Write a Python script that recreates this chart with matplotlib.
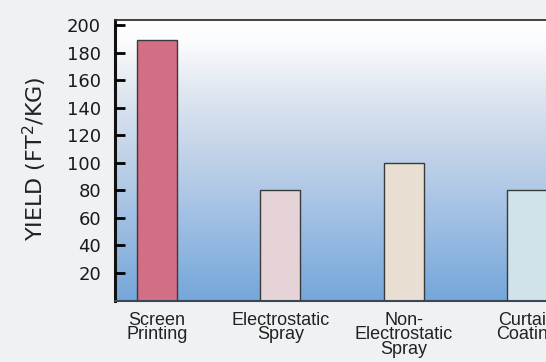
import numpy as np
import matplotlib
matplotlib.use("Agg")
import matplotlib.pyplot as plt
from matplotlib.colors import LinearSegmentedColormap

# Data
methods = ["Screen\nPrinting", "Electrostatic\nSpray", "Non-\nElectrostatic\nSpray", "Curtain\nCoating"]
yield_values = [189, 80, 100, 80]
bar_colors = ["#d36f84", "#e5d3d8", "#e8dfd2", "#d0e2ea"]
y_ticks = [20, 40, 60, 80, 100, 120, 140, 160, 180, 200]

fig = plt.figure(figsize=(5.46, 3.62), dpi=100)
fig.patch.set_facecolor("#eff1f3")

ax = fig.add_axes([115 / 546, (362 - 300.6) / 362, 431 / 546, 281.1 / 362])
ax.set_axisbelow(False)

# Vertical gradient background (blue at bottom, white at top)
grad_cmap = LinearSegmentedColormap.from_list(
    "sky",
    [(0.0, "#74a7d9"), (0.3, "#a2c0e4"), (0.5, "#bfd1e8"),
     (0.75, "#e0e8f1"), (0.92, "#fbfcfd"), (1.0, "#ffffff")],
)
grad = np.linspace(0, 1, 256).reshape(-1, 1)
ax.imshow(grad, cmap=grad_cmap, aspect="auto", origin="lower",
          extent=[-0.34, 3.15, 0, 204], zorder=0)
ax.set_xlim(-0.34, 3.15)
ax.set_ylim(0, 204)

x = np.arange(len(methods))
ax.bar(x, yield_values, width=0.324, color=bar_colors,
       edgecolor="#3a3a3a", linewidth=1.0, zorder=2)

# Spines
ax.spines["left"].set_linewidth(2.2)
ax.spines["left"].set_color("#111111")
ax.spines["bottom"].set_linewidth(1.5)
ax.spines["bottom"].set_color("#3c4756")
ax.spines["top"].set_linewidth(1.3)
ax.spines["top"].set_color("#333333")
ax.spines["right"].set_visible(False)

# Y axis ticks: labels outside, tick marks drawn inward from the spine
ax.set_yticks(y_ticks)
ax.set_yticklabels([str(t) for t in y_ticks], fontsize=13,
                   family="DejaVu Sans", color="#1a1a1a")
ax.tick_params(axis="y", length=0, pad=10)
ax.hlines(y_ticks, 0, 0.023, transform=ax.get_yaxis_transform(),
          colors="#000000", linewidth=2.0, zorder=5, clip_on=False)

# X axis labels
ax.set_xticks(x)
ax.set_xticklabels(methods, fontsize=13, family="Liberation Sans",
                   color="#222222")
for lbl in ax.get_xticklabels():
    lbl.set_linespacing(0.8)
ax.tick_params(axis="x", length=0, pad=8)

ax.set_ylabel("YIELD (FT$^2$/KG)", fontsize=16, family="DejaVu Sans",
              color="#222222")
ax.yaxis.set_label_coords(-66 / 431, 0.505)

fig.savefig("out.png", dpi=100, facecolor=fig.get_facecolor())
